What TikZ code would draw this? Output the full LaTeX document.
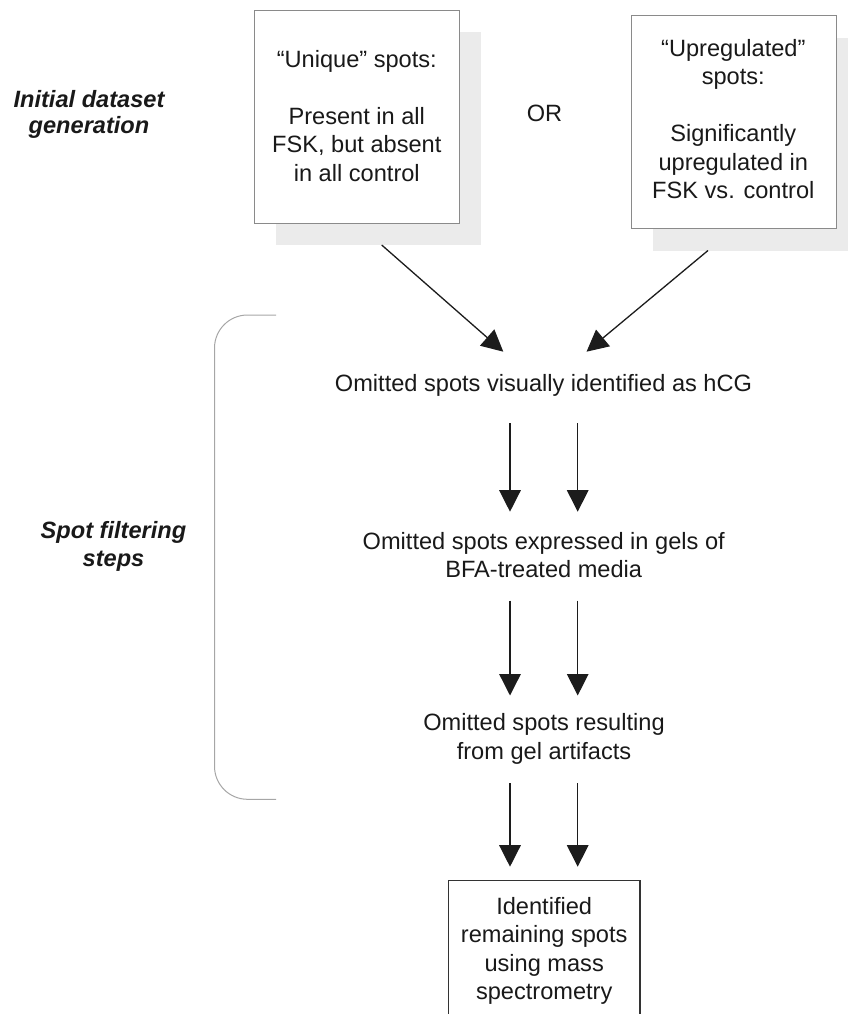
\documentclass[tikz,border=0pt]{standalone}
\usepackage{fontspec}
\setmainfont{Liberation Sans}
\usetikzlibrary{arrows.meta}
\definecolor{shadowgray}{HTML}{EBEBEB}
\definecolor{boxborder}{HTML}{8A8A8A}
\definecolor{bracegray}{HTML}{A6A6A6}
\definecolor{arrowcol}{HTML}{1C1C1C}
\definecolor{msborder}{HTML}{333333}
\begin{document}
\begin{tikzpicture}[x=1pt,y=-1pt,
  txt/.style={font=\fontsize{23.6}{28.5}\selectfont, align=center, inner sep=0pt, anchor=base, text=black!90},
  lbl/.style={font=\fontsize{23.6}{25.5}\selectfont\bfseries\itshape, align=center, inner sep=0pt, anchor=base, text=black!90},
  flow/.style={draw=arrowcol, line width=1.3pt, -{Triangle[width=21.5pt,length=21.5pt]}},
  topbox/.style={draw=boxborder, line width=1pt, fill=white, inner sep=0pt, outer sep=0pt, anchor=north west, minimum width=205pt, minimum height=212.8pt},
  shadowbox/.style={fill=shadowgray, inner sep=0pt, outer sep=0pt, anchor=north west, minimum width=205pt, minimum height=213pt},
  bracket/.style={draw=bracegray, line width=1pt, rounded corners=33pt},
  ]
\useasboundingbox (0,0) rectangle (847,1014);

% shadows and top boxes
\node[shadowbox] (ushadow) at (276,32) {};
\node[topbox] (ubox) at (254.3,10.7) {};
\node[shadowbox] (rshadow) at (653,37.7) {};
\node[topbox] (rbox) at (631,15.7) {};

% side labels (anchor base = baseline of the last line)
\node[lbl] (initlbl) at (89,133.5) {Initial dataset\\generation};
\node[lbl] (spotlbl) at (113.5,566.7) {Spot filtering\\[3pt]steps};

% texts
\node[txt] (utext) at (356.8,181) {“Unique” spots:\\[28.5pt]Present in all\\FSK, but absent\\in all control};
\node[txt] (rtext) at (733.3,198.5) {“Upregulated”\\spots:\\[28.5pt]Significantly\\upregulated in\\FSK vs. control};
\node[txt] (ortext) at (544.5,121.5) {OR};
\node[txt] (hcg) at (543.5,391.7) {Omitted spots visually identified as hCG};
\node[txt] (bfa) at (543.7,577.5) {Omitted spots expressed in gels of\\BFA-treated media};
\node[txt] (gel) at (544,759) {Omitted spots resulting\\from gel artifacts};

% bottom box
\node[draw=msborder, line width=1.5pt, inner sep=0pt, outer sep=0pt, anchor=north west, minimum width=191.7pt, minimum height=160pt] (msbox) at (448.3,880.7) {};
\node[txt] (mstext) at (544.2,999.5) {Identified\\remaining spots\\using mass\\spectrometry};

% bracket
\coordinate (brtop) at (276,315);
\coordinate (brbot) at (276,799.3);
\draw[bracket] (brtop) -- (214.5,315) -- (214.5,799.3) -- (brbot);

% arrow end points
\coordinate (lt) at (381.7,245);
\coordinate (lh) at (503.3,351.7);
\coordinate (rt) at (708,250.5);
\coordinate (rh) at (586.5,351.7);
\coordinate (a1s) at (510,423.3);  \coordinate (a1e) at (510,511.7);
\coordinate (b1s) at (577.7,423.3); \coordinate (b1e) at (577.7,511.7);
\coordinate (a2s) at (510,600.5);  \coordinate (a2e) at (510,695.5);
\coordinate (b2s) at (577.7,600.5); \coordinate (b2e) at (577.7,695.5);
\coordinate (a3s) at (510,783.3);  \coordinate (a3e) at (510,866.7);
\coordinate (b3s) at (577.7,783.3); \coordinate (b3e) at (577.7,866.7);

\draw[flow] (lt) -- (lh);
\draw[flow] (rt) -- (rh);
\draw[flow] (a1s) -- (a1e);
\draw[flow] (b1s) -- (b1e);
\draw[flow] (a2s) -- (a2e);
\draw[flow] (b2s) -- (b2e);
\draw[flow] (a3s) -- (a3e);
\draw[flow] (b3s) -- (b3e);
\end{tikzpicture}
\end{document}
